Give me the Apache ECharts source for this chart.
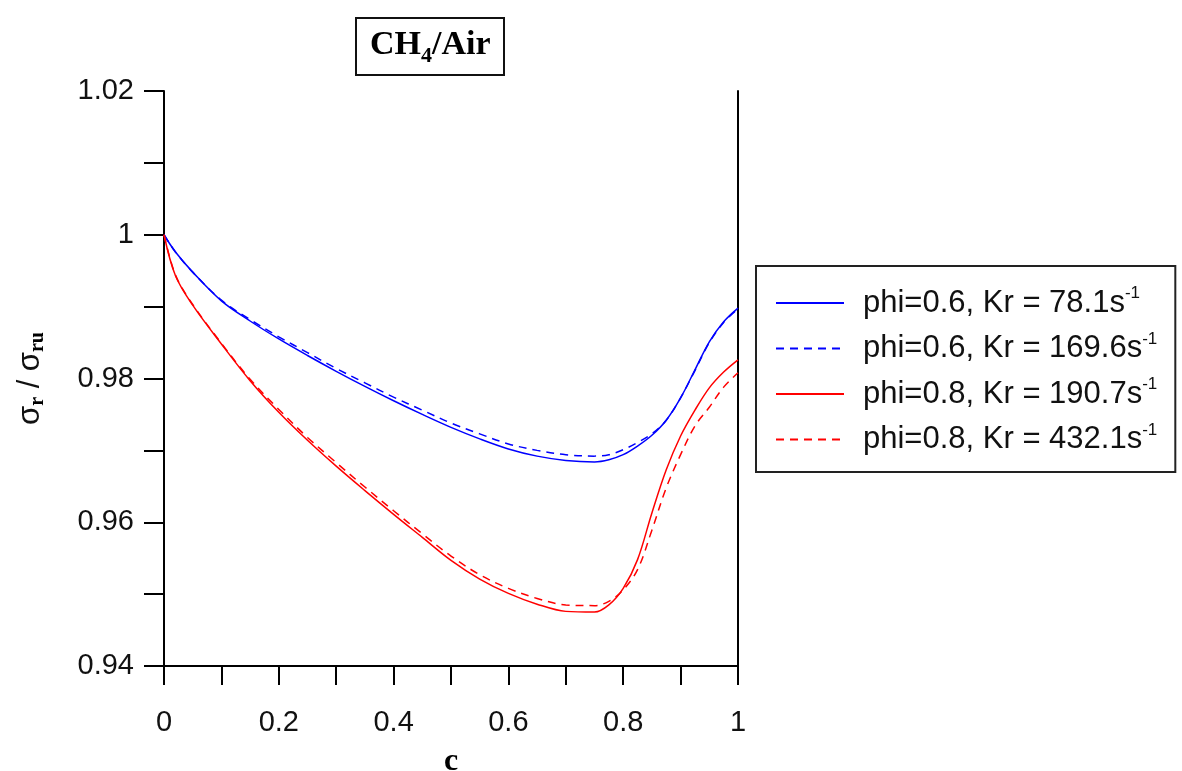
<!DOCTYPE html>
<html>
<head>
<meta charset="utf-8">
<script src="https://cdn.jsdelivr.net/npm/echarts@6/dist/echarts.min.js"></script>
<style>
html,body{margin:0;padding:0;background:#fff;}
#chart{width:1182px;height:771px;}
</style>
</head>
<body>
<div id="chart"></div>
<script>
var cVals = [0,0.02,0.05,0.1,0.15,0.2,0.25,0.3,0.35,0.4,0.45,0.5,0.55,0.6,0.65,0.7,0.75,0.775,0.8,0.825,0.85,0.875,0.9,0.925,0.95,0.975,1];
var blueSolid = [1.0000,0.9976,0.9948,0.9908,0.9880,0.9855,0.9832,0.9810,0.9789,0.9769,0.9750,0.9732,0.9716,0.9702,0.9692,0.9686,0.9684,0.9687,0.9694,0.9706,0.9721,0.9742,0.9773,0.9812,0.9851,0.9879,0.9898];
var blueDashed = [1.0000,0.9976,0.9948,0.9909,0.9882,0.9858,0.9836,0.9814,0.9794,0.9774,0.9756,0.9738,0.9723,0.9709,0.9700,0.9694,0.9692,0.9694,0.9701,0.9711,0.9723,0.9742,0.9773,0.9811,0.9850,0.9878,0.9897];
var redSolid = [1.0000,0.9943,0.9902,0.9848,0.9797,0.9753,0.9714,0.9678,0.9644,0.9611,0.9579,0.9547,0.9521,0.9501,0.9486,0.9476,0.9475,0.9485,0.9508,0.9548,0.9613,0.9673,0.9720,0.9756,0.9787,0.9809,0.9826];
var redDashed = [1.0000,0.9944,0.9903,0.9849,0.9799,0.9757,0.9718,0.9683,0.9649,0.9616,0.9584,0.9553,0.9527,0.9508,0.9494,0.9485,0.9484,0.9490,0.9506,0.9534,0.9589,0.9648,0.9694,0.9734,0.9760,0.9788,0.9808];
var phiVals = ['0.6','0.6','0.8','0.8'];
var krVals = ['78.1','169.6','190.7','432.1'];
var xTickLabels = ['0','0.2','0.4','0.6','0.8','1'];
var yTickLabels = ['0.94','0.96','0.98','1','1.02'];

var seriesData = [blueSolid, blueDashed, redSolid, redDashed];
var colors = ['#0000ff','#0000ff','#ff0000','#ff0000'];
var dashes = ['solid',[8,6],'solid',[8,6]];
var names = [];
for (var i=0;i<4;i++) names.push('phi=' + phiVals[i] + ', Kr = ' + krVals[i] + 's-1');

var sans = "'Liberation Sans', Arial, sans-serif";
var serif = "'Liberation Serif', 'Times New Roman', serif";

var series = seriesData.map(function(arr, i){
  return {
    name: names[i],
    type: 'line',
    data: cVals.map(function(c, j){ return [c, arr[j]]; }),
    showSymbol: false,
    symbol: 'none',
    smooth: 0.35,
    yAxisIndex: 0,
    lineStyle: {color: colors[i], width: 1.5, type: dashes[i]},
    itemStyle: {color: colors[i]}
  };
});

var chart = echarts.init(document.getElementById('chart'), null, {renderer:'canvas'});
chart.setOption({
  backgroundColor: '#fff',
  animation: false,
  title: {
    text: '{b|CH}{sub|4}{b|/Air}',
    left: 356, top: 13,
    padding: [10, 14, 8, 14],
    borderColor: '#111', borderWidth: 2,
    textStyle: {
      rich: {
        b: {fontFamily: serif, fontWeight: 'bold', fontSize: 34, color: '#000', lineHeight: 44},
        sub: {fontFamily: serif, fontWeight: 'bold', fontSize: 22, color: '#000', lineHeight: 22, verticalAlign: 'bottom'}
      }
    }
  },
  legend: {
    orient: 'vertical',
    left: 756, top: 266,
    padding: [19, 18, 17, 19],
    itemGap: 12,
    itemWidth: 68, itemHeight: 14,
    backgroundColor: '#fff',
    borderColor: '#222', borderWidth: 2,
    borderRadius: 0,
    data: names,
    itemStyle: {opacity: 0, color: 'transparent', borderColor: 'transparent', borderWidth: 0},
    lineStyle: {width: 2, inactiveWidth: 2},
    formatter: function(name){
      var base = name.replace('s-1','s');
      return '{t|' + base + '}{sup|-1}';
    },
    textStyle: {
      rich: {
        t: {fontFamily: sans, fontSize: 31, color: '#111', lineHeight: 36, padding: [0,0,0,14]},
        sup: {fontFamily: sans, fontSize: 17, color: '#111', lineHeight: 30, verticalAlign: 'top'}
      }
    }
  },
  grid: {left: 164, right: 444, top: 91, bottom: 105, containLabel: false, outerBoundsMode: 'none'},
  xAxis: {
    type: 'value', min: 0, max: 1, interval: 0.1,
    name: 'c', nameLocation: 'middle', nameGap: 80,
    nameTextStyle: {fontFamily: serif, fontWeight: 'bold', fontSize: 32, color: '#000'},
    axisLine: {show: true, onZero: false, lineStyle: {color: '#000', width: 2}},
    axisTick: {show: true, inside: false, length: 19, lineStyle: {color: '#000', width: 2}},
    axisLabel: {
      margin: 42, fontFamily: sans, fontSize: 29, color: '#111',
      formatter: function(v){
        var k = Math.round(v*10);
        if (k % 2 !== 0) return '';
        return xTickLabels[k/2];
      }
    },
    splitLine: {show: false}
  },
  yAxis: [{
    type: 'value', min: 0.94, max: 1.02, interval: 0.01,
    name: '{s|σ}{sub|r}{s| / }{s|σ}{sub|ru}',
    nameLocation: 'middle', nameGap: 116, nameRotate: 90,
    nameTextStyle: {
      rich: {
        s: {fontFamily: sans, fontSize: 31, color: '#111', lineHeight: 36},
        sub: {fontFamily: serif, fontWeight: 'bold', fontSize: 20, color: '#000', lineHeight: 18, verticalAlign: 'bottom'}
      }
    },
    axisLine: {show: true, onZero: false, lineStyle: {color: '#000', width: 2}},
    axisTick: {show: true, inside: false, length: 20, lineStyle: {color: '#000', width: 2}},
    axisLabel: {
      margin: 30, fontFamily: sans, fontSize: 29, color: '#111',
      formatter: function(v){
        var k = Math.round((v - 0.94)*100);
        if (k % 2 !== 0) return '';
        return yTickLabels[k/2];
      }
    },
    splitLine: {show: false}
  }, {
    type: 'value', min: 0.94, max: 1.02, position: 'right',
    axisLine: {show: true, onZero: false, lineStyle: {color: '#000', width: 2}},
    axisTick: {show: false}, axisLabel: {show: false}, splitLine: {show: false}
  }],
  series: series
});
</script>
</body>
</html>
